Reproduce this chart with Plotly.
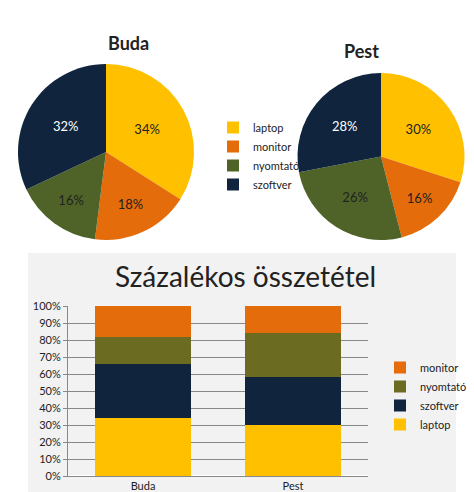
import plotly.graph_objects as go

W, H = 474, 492
labels = ["laptop", "monitor", "nyomtató", "szoftver"]
pie_colors = ["#FFC000", "#E46C0A", "#4F6228", "#10243E"]
buda = [34, 18, 16, 32]
pest = [30, 16, 26, 28]
pie_text_colors = ["#222222", "#222222", "#222222", "#FFFFFF"]

bar_cats = ["Buda", "Pest"]
bar_series = ["laptop", "szoftver", "nyomtató", "monitor"]
bar_colors = {"laptop": "#FFC000", "szoftver": "#10243E", "nyomtató": "#6B6B22", "monitor": "#E46C0A"}
bar_vals = {"laptop": [34, 30], "szoftver": [32, 28], "nyomtató": [16, 26], "monitor": [18, 16]}

def dx(a, b): return [a / W, b / W]
def dy(top, bot): return [1 - bot / H, 1 - top / H]

fig = go.Figure()
for name, vals, d in [("Buda", buda, (10, 186, 56, 232)), ("Pest", pest, (289, 457, 65, 232))]:
    fig.add_trace(go.Pie(labels=labels, values=vals, sort=False, direction="clockwise", rotation=0,
                         marker=dict(colors=pie_colors), textinfo="percent", textposition="inside",
                         texttemplate="%{percent:.0%}",
                         textfont=dict(color=pie_text_colors, size=13, family="Lato"),
                         insidetextorientation="horizontal",
                         domain=dict(x=dx(d[0], d[1]), y=dy(d[2], d[3])), legend="legend",
                         showlegend=(name == "Buda")))

for s in bar_series:
    fig.add_trace(go.Bar(name=s, x=bar_cats, y=[v / 100 for v in bar_vals[s]],
                         marker=dict(color=bar_colors[s], line=dict(width=0)), legend="legend2"))

fig.update_layout(
    width=W, height=H, margin=dict(l=0, r=0, t=0, b=0, pad=0, autoexpand=False),
    paper_bgcolor="white", plot_bgcolor="white", barmode="stack", bargap=0.36,
    font=dict(family="Lato", color="#222222"),
    xaxis=dict(domain=dx(60, 360), showgrid=False, showline=True, linecolor="#888888",
               tickfont=dict(size=11), ticks="", automargin=False),
    yaxis=dict(domain=dy(298, 468), range=[0, 1], dtick=0.1, tickformat=".0%", automargin=False,
               showgrid=True, gridcolor="#888888", gridwidth=1, showline=True, linecolor="#888888",
               tickfont=dict(size=11), ticks="outside", ticklen=4, tickcolor="#888888"),
    legend=dict(x=205 / W, y=1 - 105 / H, xanchor="left", yanchor="top", font=dict(size=11),
                bgcolor="rgba(0,0,0,0)", itemwidth=30, tracegroupgap=4),
    legend2=dict(x=372 / W, y=1 - 345 / H, xanchor="left", yanchor="top", font=dict(size=11),
                 bgcolor="rgba(0,0,0,0)", traceorder="reversed", itemwidth=30),
    shapes=[dict(type="rect", xref="paper", yref="paper", x0=20 / W, x1=448 / W,
                 y0=0, y1=1 - 245 / H, fillcolor="#F2F2F2", line=dict(width=0), layer="below")],
    annotations=[
        dict(text="<b>Buda</b>", x=98 / W, y=1 - 22 / H, xref="paper", yref="paper", showarrow=False,
             font=dict(size=18, family="Lato")),
        dict(text="<b>Pest</b>", x=373 / W, y=1 - 30 / H, xref="paper", yref="paper", showarrow=False,
             font=dict(size=18, family="Lato")),
        dict(text="Százalékos összetétel", x=237 / W, y=1 - 268 / H, xref="paper", yref="paper",
             showarrow=False, font=dict(size=28, family="Lato")),
    ],
)
fig.write_html("out.html")
